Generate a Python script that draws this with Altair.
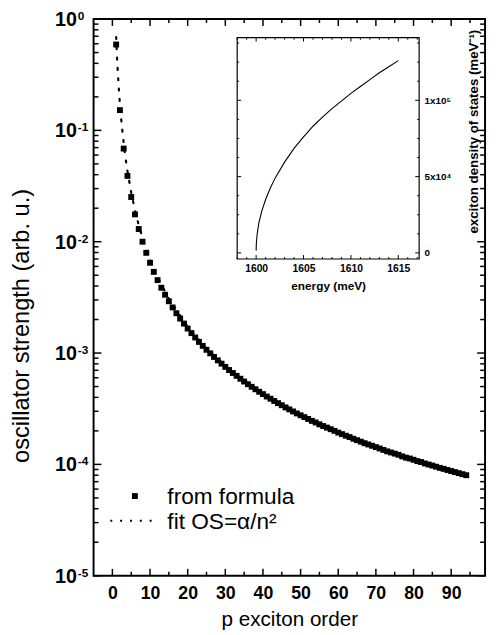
import altair as alt
import pandas as pd

# ---------------- data ----------------
n_order = list(range(1, 95))
os_formula = [
    0.590, 0.152, 0.0686, 0.0390, 0.0252, 0.0176, 0.0130, 0.0100, 0.00795, 0.00647,
    0.00536, 0.00452, 0.00386, 0.00334, 0.00292, 0.00257, 0.00228, 0.00204, 0.00184, 0.00166,
    0.00151, 0.00138, 0.00126, 0.00116, 0.00107, 0.000994, 0.000923, 0.000860, 0.000803, 0.000751,
    0.000704, 0.000662, 0.000624, 0.000588, 0.000555, 0.000525, 0.000498, 0.000473, 0.000449, 0.000428,
    0.000407, 0.000389, 0.000371, 0.000355, 0.000340, 0.000325, 0.000312, 0.000299, 0.000287, 0.000276,
    0.000266, 0.000256, 0.000246, 0.000238, 0.000229, 0.000221, 0.000214, 0.000207, 0.000200, 0.000193,
    0.000187, 0.000181, 0.000176, 0.000170, 0.000165, 0.000160, 0.000155, 0.000151, 0.000147, 0.000143,
    0.000139, 0.000135, 0.000131, 0.000128, 0.000125, 0.000122, 0.000118, 0.000115, 0.000113, 0.000110,
    0.000107, 0.000105, 0.000102, 0.0000998, 0.0000976, 0.0000953, 0.0000931, 0.0000912, 0.0000891, 0.0000872,
    0.0000853, 0.0000835, 0.0000817, 0.0000800,
]
fit_n = [1, 1.25, 1.5, 1.75, 2, 2.5, 3, 3.5, 4, 5, 6, 7, 8, 10, 12, 15, 20, 25, 30, 40, 50, 60, 70, 80, 94]
fit_os = [0.69, 0.442, 0.307, 0.225, 0.1725, 0.110, 0.0767, 0.0563, 0.0431, 0.0276, 0.0192, 0.0141,
          0.0108, 0.0069, 0.00479, 0.00307, 0.00173, 0.0011, 0.000767, 0.000431, 0.000276, 0.000192,
          0.000141, 0.000108, 0.0000781]

energy = [1600.0, 1600.02, 1600.1, 1600.3, 1600.6, 1601.0, 1601.5, 1602.0, 1603.0, 1604.0, 1605.0,
          1606.0, 1607.0, 1608.0, 1609.0, 1610.0, 1611.0, 1612.0, 1613.0, 1614.0, 1615.0]
dos = [1500, 6000, 12000, 20000, 27500, 35000, 42500, 49000, 59500, 68500, 76000,
       83000, 89000, 94500, 99500, 104500, 109000, 113500, 118000, 122000, 126000]

x_labels = [0, 10, 20, 30, 40, 50, 60, 70, 80, 90]
x_minor = [5, 15, 25, 35, 45, 55, 65, 75, 85, 95]
y_decades = [1, 0.1, 0.01, 0.001, 0.0001, 0.00001]
y_exponents = ["0", "-1", "-2", "-3", "-4", "-5"]
y_minor = [k * d for d in [0.1, 0.01, 0.001, 0.0001, 0.00001] for k in range(2, 10)]

inset_x_domain = [1598.0, 1617.2]
inset_y_domain = [-4000, 141000]
inset_x_labels = [1600, 1605, 1610, 1615]
inset_x_minor = [v for v in range(1598, 1618) if v % 5 != 0]
inset_y_labels = [0, 50000, 100000]
inset_y_minor = [v for v in range(0, 141000, 12500) if v % 50000 != 0]

FONT = "Liberation Sans"
W, H = 398, 566
# inset placement inside the plot area (pixels)
IX0, IX1, IY0, IY1 = 146, 331, 19, 244

xs = alt.Scale(domain=[-5, 99], nice=False, zero=False)
ys = alt.Scale(type="log", domain=[0.00001, 1], nice=False)
ixs = alt.Scale(domain=inset_x_domain, range=[IX0, IX1], nice=False, zero=False)
iys = alt.Scale(domain=inset_y_domain, range=[IY1, IY0], nice=False, zero=False)

main_x_axis = alt.Axis(
    values=x_labels, ticks=False, domain=False, grid=False, labelFlush=False,
    labelFont=FONT, labelFontSize=18, labelFontWeight="bold", labelColor="black", labelPadding=9,
    title="p exciton order", titleFont=FONT, titleFontSize=21, titleFontWeight="normal",
    titleColor="black", titlePadding=7)

inset_x_axis = alt.Axis(
    orient="bottom", offset=-(H - IY1), values=inset_x_labels, format="d", ticks=False, domain=False,
    grid=False, labelFlush=False, labelFont=FONT, labelFontSize=10.5, labelFontWeight="bold",
    labelColor="black", labelPadding=5, title="energy (meV)", titleFont=FONT, titleFontSize=12,
    titleFontWeight="bold", titleColor="black", titlePadding=6)

inset_y_axis = alt.Axis(
    orient="right", offset=-(W - IX1), values=inset_y_labels, ticks=False, domain=False, grid=False,
    labelFlush=False,
    labelExpr="datum.value == 0 ? '0' : (datum.value == 50000 ? '5x10\u2074' : '1x10\u2075')",
    labelFont=FONT, labelFontSize=10, labelFontWeight="bold", labelColor="black", labelPadding=5,
    title="exciton density of states  (meV\u207b\u00b9)", titleFont=FONT, titleFontSize=13.5,
    titleFontWeight="bold", titleColor="black", titleAngle=270, titleAlign="center",
    titleBaseline="middle", titleX=55, titleY=114)


def xrules(vals, scale, axis, a, b, sw):
    return alt.Chart(pd.DataFrame({"v": vals})).mark_rule(color="black", strokeWidth=sw).encode(
        x=alt.X("v:Q", scale=scale, axis=axis), y=alt.value(a), y2=alt.value(b))


def yrules(vals, scale, axis, a, b, sw):
    return alt.Chart(pd.DataFrame({"v": vals})).mark_rule(color="black", strokeWidth=sw).encode(
        y=alt.Y("v:Q", scale=scale, axis=axis), x=alt.value(a), x2=alt.value(b))


df_pts = pd.DataFrame({"n": n_order, "os": os_formula})
df_fit = pd.DataFrame({"n": fit_n, "os": fit_os})

fit_line = alt.Chart(df_fit).mark_line(color="black", strokeWidth=2.2, strokeDash=[2, 8.5], strokeCap="round").encode(
    x=alt.X("n:Q", scale=xs, axis=main_x_axis), y=alt.Y("os:Q", scale=ys, axis=None))

points = alt.Chart(df_pts).mark_square(color="black", size=36, opacity=1).encode(
    x=alt.X("n:Q", scale=xs, axis=main_x_axis), y=alt.Y("os:Q", scale=ys, axis=None))

df_dec = pd.DataFrame({"v": y_decades, "e": y_exponents})
ylab_base = alt.Chart(df_dec).mark_text(align="right", baseline="middle", font=FONT, fontSize=20,
                                         fontWeight="bold", dy=1).encode(
    y=alt.Y("v:Q", scale=ys, axis=None), x=alt.value(-17), text=alt.value("10"))
ylab_exp = alt.Chart(df_dec).mark_text(align="left", baseline="middle", font=FONT, fontSize=12,
                                        fontWeight="bold", dy=-3).encode(
    y=alt.Y("v:Q", scale=ys, axis=None), x=alt.value(-16), text="e:N")
ytitle = alt.Chart(pd.DataFrame({"t": ["oscillator strength (arb. u.)"]})).mark_text(
    angle=270, font=FONT, fontSize=24, baseline="middle", align="center").encode(
    x=alt.value(-73), y=alt.value(312), text="t:N")

leg_df = pd.DataFrame({"t": ["from formula"]})
leg_sq = alt.Chart(leg_df).mark_square(color="black", size=36, opacity=1).encode(
    x=alt.value(42), y=alt.value(485))
leg_t1 = alt.Chart(leg_df).mark_text(align="left", baseline="middle", font=FONT, fontSize=23).encode(
    x=alt.value(75), y=alt.value(486), text="t:N")
leg_line = alt.Chart(leg_df).mark_rule(color="black", strokeWidth=2, strokeDash=[2, 8]).encode(
    x=alt.value(17), x2=alt.value(63), y=alt.value(510))
leg_t2 = alt.Chart(pd.DataFrame({"t": ["fit OS=\u03b1/n\u00b2"]})).mark_text(
    align="left", baseline="middle", font=FONT, fontSize=23).encode(
    x=alt.value(75), y=alt.value(511), text="t:N")

main = alt.layer(
    fit_line, points,
    xrules(x_labels, xs, main_x_axis, H, H - 7, 1.5), xrules(x_minor, xs, main_x_axis, H, H - 4, 1.5),
    xrules(x_labels, xs, main_x_axis, 0, 7, 1.5), xrules(x_minor, xs, main_x_axis, 0, 4, 1.5),
    yrules(y_decades, ys, None, 0, 8, 1.5), yrules(y_minor, ys, None, 0, 5, 1.5),
    yrules(y_decades, ys, None, W, W - 8, 1.5), yrules(y_minor, ys, None, W, W - 5, 1.5),
    ylab_base, ylab_exp, ytitle, leg_sq, leg_t1, leg_line, leg_t2,
)

# ---------------- inset ----------------
frame_df = pd.DataFrame({"x0": [inset_x_domain[0]], "x1": [inset_x_domain[1]],
                         "y0": [inset_y_domain[0]], "y1": [inset_y_domain[1]]})
frame = alt.Chart(frame_df).mark_rect(fill="white", stroke="black", strokeWidth=1.2).encode(
    x=alt.X("x0:Q", scale=ixs, axis=inset_x_axis), x2="x1:Q",
    y=alt.Y("y0:Q", scale=iys, axis=inset_y_axis), y2="y1:Q")

curve = alt.Chart(pd.DataFrame({"E": energy, "D": dos})).mark_line(color="black", strokeWidth=1.1).encode(
    x=alt.X("E:Q", scale=ixs, axis=inset_x_axis),
    y=alt.Y("D:Q", scale=iys, axis=inset_y_axis))

inset = alt.layer(
    frame, curve,
    xrules(inset_x_labels, ixs, inset_x_axis, IY1, IY1 - 4, 1),
    xrules(inset_x_minor, ixs, inset_x_axis, IY1, IY1 - 2, 1),
    xrules(inset_x_labels, ixs, inset_x_axis, IY0, IY0 + 4, 1),
    xrules(inset_x_minor, ixs, inset_x_axis, IY0, IY0 + 2, 1),
    yrules(inset_y_labels, iys, inset_y_axis, IX0, IX0 + 4, 1),
    yrules(inset_y_minor, iys, inset_y_axis, IX0, IX0 + 2, 1),
    yrules(inset_y_labels, iys, inset_y_axis, IX1, IX1 - 4, 1),
    yrules(inset_y_minor, iys, inset_y_axis, IX1, IX1 - 2, 1),
)

chart = alt.layer(main, inset).resolve_scale(x="independent", y="independent").properties(
    width=W, height=H,
    autosize=alt.AutoSizeParams(type="none"),
    padding={"left": 87, "top": 6, "right": 3, "bottom": 53},
).configure_view(stroke="black", strokeWidth=2)

chart.save("out.html", embed_options={"renderer": "svg", "actions": False})
